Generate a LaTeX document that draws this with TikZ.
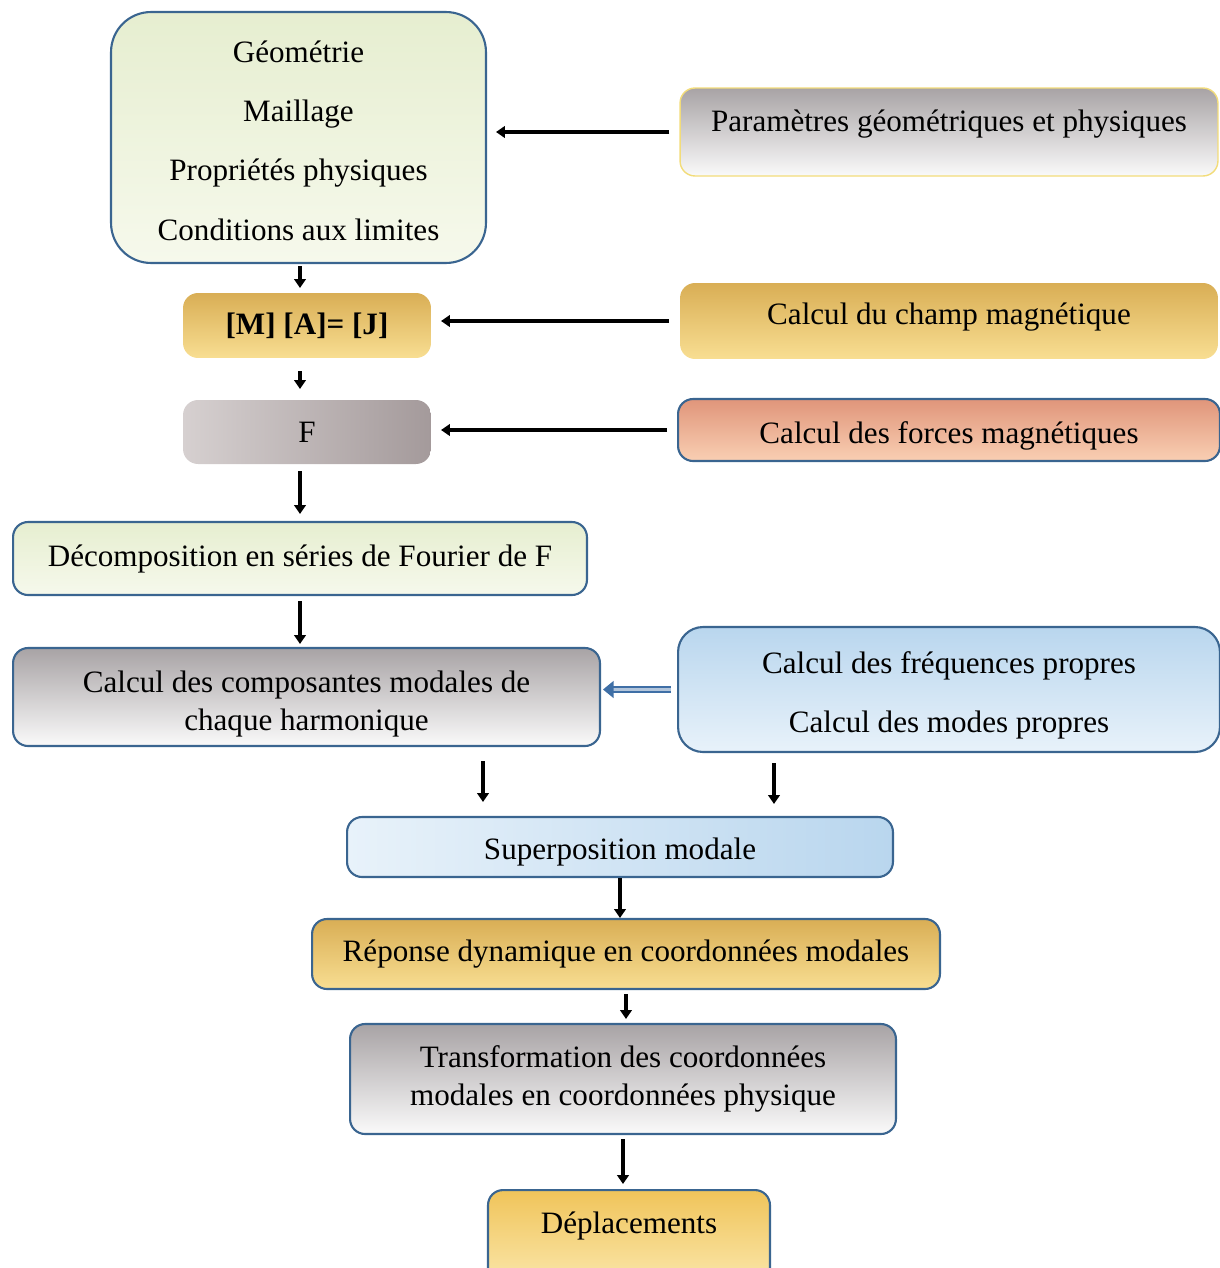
\documentclass[tikz,border=0pt]{standalone}
\usepackage{fontspec}
\setmainfont{Liberation Serif}
\usetikzlibrary{arrows.meta,positioning,calc}

\definecolor{frame}{HTML}{3A6590}
\definecolor{hollowblue}{HTML}{3F6FA6}
\definecolor{paramedge}{HTML}{F2DC7A}
\definecolor{greenA}{HTML}{E6EED0}
\definecolor{greenB}{HTML}{F6F9EC}
\definecolor{goldA}{HTML}{D9AE55}
\definecolor{goldB}{HTML}{F8DE92}
\definecolor{goldC}{HTML}{F0C45A}
\definecolor{goldD}{HTML}{FBE9B0}
\definecolor{greyA}{HTML}{A8A3A5}
\definecolor{greyB}{HTML}{FAFAFA}
\definecolor{greyC}{HTML}{D6D0D0}
\definecolor{greyD}{HTML}{A49A9B}
\definecolor{roseA}{HTML}{E0957A}
\definecolor{roseB}{HTML}{F9CFB3}
\definecolor{blueA}{HTML}{B9D6EE}
\definecolor{blueB}{HTML}{E8F2FA}

% decale le texte sans changer la boite
\newcommand{\lift}[2]{\raisebox{#1}[\height][\depth]{#2}}

\begin{document}
\begin{tikzpicture}[x=0.02cm, y=-0.02cm, >=Stealth, font=\fontsize{17.7}{21.8}\selectfont,
    box/.style={draw=frame, line width=1.2pt, rounded corners=0.3cm, align=center, inner sep=2pt},
    greenbox/.style={box, top color=greenA, bottom color=greenB},
    goldbox/.style={box, top color=goldA, bottom color=goldB},
    goldflat/.style={goldbox, draw=none},
    greybox/.style={box, top color=greyA, bottom color=greyB},
    greyflat/.style={box, draw=none, left color=greyC, right color=greyD},
    rosebox/.style={box, top color=roseA, bottom color=roseB},
    bluebox/.style={box, top color=blueA, bottom color=blueB},
    parambox/.style={box, draw=paramedge, line width=0.8pt, top color=greyA, bottom color=greyB},
    flow/.style={line width=2pt, -{Triangle[length=5pt,width=6.5pt]}},
    hollow/.style={draw=hollowblue, double=hollowblue!40, double distance=2pt, line width=1.2pt,
        -{Triangle[length=6pt,width=9.5pt]}}]
    \clip (0,0) rectangle (1220,1268);

    % Donnees d'entree
    \node[greenbox, rounded corners=0.8cm, minimum width=7.5cm, minimum height=5.02cm] (geom) at (298.5,137.5)
        {\lift{-0.06cm}{Géométrie}\\[12pt] \lift{-0.06cm}{Maillage}\\[12pt]
         \lift{-0.06cm}{Propriétés physiques}\\[12pt] \lift{-0.06cm}{Conditions aux limites}};
    \node[parambox, minimum width=10.76cm, minimum height=1.76cm] (param) at (949,132)
        {\lift{0.16cm}{Paramètres géométriques et physiques}};

    % Calcul magnetique
    \node[goldflat, minimum width=4.96cm, minimum height=1.3cm] (mat) at (307,325.5) {\textbf{[M] [A]= [J]}};
    \node[goldflat, minimum width=10.76cm, minimum height=1.52cm] (champ) at (949,321)
        {\lift{0.08cm}{Calcul du champ magnétique}};
    \node[greyflat, minimum width=4.96cm, minimum height=1.28cm] (force) at (307,432) {F};
    \node[rosebox, minimum width=10.84cm, minimum height=1.24cm] (forces) at (949,430)
        {\lift{-0.12cm}{Calcul des forces magnétiques}};

    % Analyse modale
    \node[greenbox, minimum width=11.48cm, minimum height=1.46cm] (fourier) at (300,558.5) {Décomposition en séries de Fourier de F};
    \node[greybox, minimum width=11.74cm, minimum height=1.96cm] (modal) at (306.5,697)
        {\lift{-0.14cm}{Calcul des composantes modales de}\\ \lift{-0.14cm}{chaque harmonique}};
    \node[bluebox, rounded corners=0.5cm, minimum width=10.84cm, minimum height=2.5cm] (freq) at (949,689.5)
        {\lift{-0.12cm}{Calcul des fréquences propres}\\[11.5pt] \lift{-0.12cm}{Calcul des modes propres}};
    \node[bluebox, left color=blueB, right color=blueA, minimum width=10.92cm, minimum height=1.2cm] (superpos) at (620,847)
        {\lift{-0.1cm}{Superposition modale}};
    \node[goldbox, minimum width=12.56cm, minimum height=1.4cm] (reponse) at (626,954) {Réponse dynamique en coordonnées modales};
    \node[greybox, minimum width=10.92cm, minimum height=2.2cm] (transf) at (623,1079)
        {Transformation des coordonnées\\ modales en coordonnées physique};
    \node[goldbox, top color=goldC, bottom color=goldD, anchor=north, minimum width=5.64cm, inner ysep=0pt,
        text height=0.86cm, text depth=1.16cm] (depl) at (629,1189) {Déplacements};

    % Fleches verticales
    \draw[flow, shorten <=0.04cm, shorten >=0.08cm] (geom.south -| fourier.north) -- (mat.north -| fourier.north);
    \draw[flow, shorten <=0.24cm, shorten >=0.2cm] (mat.south -| fourier.north) -- (force.north -| fourier.north);
    \draw[flow, shorten <=0.12cm, shorten >=0.14cm] (force.south -| fourier.north) -- (fourier.north);
    \draw[flow, shorten <=0.1cm, shorten >=0.06cm] (fourier.south) -- (fourier.south |- modal.north);

    % Entrees laterales
    \draw[flow, shorten <=0.2cm, shorten >=0.18cm] (param.west) -- (param.west -| geom.east);
    \draw[flow, shorten <=0.2cm, shorten >=0.18cm] (champ.west) -- (champ.west -| mat.east);
    \draw[flow, shorten <=0.2cm, shorten >=0.18cm] (forces.west) -- (forces.west -| force.east);
    \draw[hollow, shorten <=0.12cm, shorten >=0.04cm] (freq.west) -- (freq.west -| modal.east);

    % Vers la superposition
    \coordinate (m1) at ($(modal.south)+(176.5,0)$);
    \coordinate (f1) at ($(freq.south)+(-175,0)$);
    \draw[flow, shorten <=0.28cm, shorten >=0.28cm] (m1) -- (m1 |- superpos.north);
    \draw[flow, shorten <=0.2cm, shorten >=0.24cm] (f1) -- (f1 |- superpos.north);
    \draw[flow] (superpos.south) -- (superpos.south |- reponse.north);
    \draw[flow, shorten <=0.08cm, shorten >=0.08cm] (reponse.south) -- (reponse.south |- transf.north);
    \draw[flow, shorten <=0.08cm, shorten >=0.1cm] (transf.south) -- (transf.south |- depl.north);
\end{tikzpicture}
\end{document}
